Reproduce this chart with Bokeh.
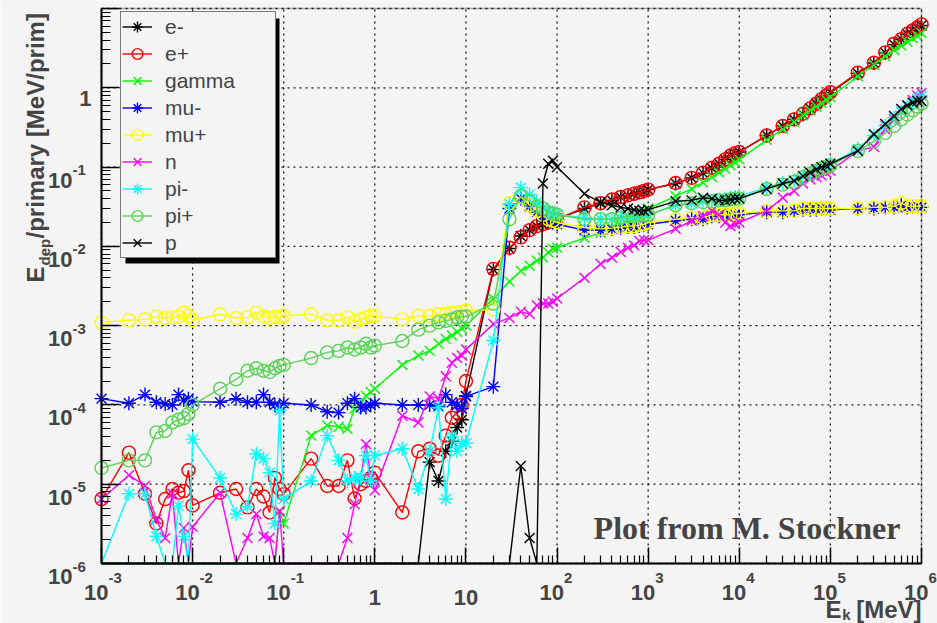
import math
from bokeh.plotting import figure
from bokeh.models import (Range1d, FixedTicker, Label, Legend, LegendItem,
                          BoxAnnotation, ColumnDataSource)
from bokeh.embed import file_html
from bokeh.resources import INLINE

BG = "#f4f4f4"
Y_MIN, Y_MAX = 1e-6, 10.0
X_MIN, X_MAX = 1e-3, 1e6

# kinetic energy grid [MeV]
EK = [1e-3, 2e-3, 3e-3, 4e-3, 5e-3, 6e-3, 7e-3, 8e-3, 9e-3,
      1e-2, 2e-2, 3e-2, 4e-2, 5e-2, 6e-2, 7e-2, 8e-2, 9e-2,
      1e-1, 2e-1, 3e-1, 4e-1, 5e-1, 6e-1, 7e-1, 8e-1, 9e-1,
      1.0, 2.0, 3.0, 4.0, 5.0, 6.0, 7.0, 8.0, 9.0,
      10.0, 20.0, 30.0, 40.0, 50.0, 60.0, 70.0, 80.0, 90.0,
      1e2, 2e2, 3e2, 4e2, 5e2, 6e2, 7e2, 8e2, 9e2,
      1e3, 2e3, 3e3, 4e3, 5e3, 6e3, 7e3, 8e3, 9e3,
      1e4, 2e4, 3e4, 4e4, 5e4, 6e4, 7e4, 8e4, 9e4,
      1e5, 2e5, 3e5, 4e5, 5e5, 6e5, 7e5, 8e5, 9e5,
      1e6]

# Edep/primary [MeV/prim]; 0 = nothing deposited (drawn at the axis floor)
E_MINUS = [0, 0, 0, 0, 0, 0, 0, 0, 0,
           0, 0, 0, 0, 0, 0, 0, 0, 0,
           0, 0, 0, 0, 0, 0, 0, 0, 0,
           0, 0, 0, 1.9e-5, 1.1e-5, 2.6e-5, 3.5e-5, 5.2e-5, 6.5e-5,
           1.3e-4, 0.0051, 0.0094, 0.0135, 0.016, 0.018, 0.019, 0.020, 0.021,
           0.022, 0.030, 0.035, 0.038, 0.042, 0.044, 0.046, 0.048, 0.049,
           0.052, 0.062, 0.073, 0.084, 0.097, 0.11, 0.124, 0.138, 0.148,
           0.155, 0.25, 0.33, 0.40, 0.46, 0.55, 0.63, 0.71, 0.79,
           0.87, 1.52, 2.05, 2.75, 3.5, 4.1, 4.7, 5.2, 5.7,
           6.1]

E_PLUS = [6.5e-6, 2.5e-5, 7.6e-6, 3.2e-6, 6.5e-6, 8.7e-6, 7.8e-6, 8.2e-6, 1.5e-5,
          5.4e-6, 7.8e-6, 8.7e-6, 5.1e-6, 8.7e-6, 7.0e-6, 4.4e-6, 1.2e-5, 8.7e-6,
          7.5e-6, 2.1e-5, 9.5e-6, 9.5e-6, 2.0e-5, 6.6e-6, 1.0e-5, 1.1e-5, 1.2e-5,
          1.4e-5, 4.4e-6, 2.6e-5, 2.8e-5, 2.3e-5, 4.1e-5, 6.9e-5, 8.0e-5, 1.0e-4,
          2.0e-4, 0.0052, 0.0096, 0.013, 0.016, 0.018, 0.019, 0.020, 0.021,
          0.022, 0.031, 0.035, 0.039, 0.042, 0.044, 0.046, 0.048, 0.050,
          0.052, 0.063, 0.073, 0.085, 0.098, 0.11, 0.125, 0.14, 0.15,
          0.155, 0.25, 0.33, 0.40, 0.47, 0.55, 0.63, 0.72, 0.80,
          0.88, 1.55, 2.07, 2.8, 3.6, 4.1, 4.8, 5.3, 5.8,
          6.3]

GAMMA = [0, 0, 0, 0, 0, 0, 0, 0, 0,
         0, 0, 0, 0, 0, 0, 0, 0, 4.5e-6,
         3.2e-6, 4.1e-5, 5.5e-5, 5.3e-5, 5.0e-5, 9.0e-5, 1.05e-4, 1.3e-4, 1.45e-4,
         1.6e-4, 3.2e-4, 4.2e-4, 4.8e-4, 5.9e-4, 6.8e-4, 7.5e-4, 8.3e-4, 9.2e-4,
         1.0e-3, 2.2e-3, 3.6e-3, 4.9e-3, 5.7e-3, 6.6e-3, 7.2e-3, 8.4e-3, 9.3e-3,
         9.6e-3, 0.0128, 0.0148, 0.017, 0.019, 0.021, 0.023, 0.025, 0.027,
         0.030, 0.043, 0.053, 0.064, 0.075, 0.085, 0.095, 0.105, 0.115,
         0.125, 0.22, 0.30, 0.37, 0.45, 0.52, 0.58, 0.64, 0.70,
         0.76, 1.4, 1.95, 2.5, 3.0, 3.4, 3.8, 4.2, 4.5,
         4.9]

MU_MINUS = [1.2e-4, 1.05e-4, 1.35e-4, 1.08e-4, 1.03e-4, 1.0e-4, 1.35e-4, 1.15e-4, 1.2e-4,
            1.1e-4, 1.08e-4, 1.2e-4, 1.08e-4, 1.08e-4, 1.35e-4, 1.08e-4, 1.0e-4, 9.3e-5,
            1.05e-4, 1.0e-4, 8.2e-5, 8.0e-5, 1.05e-4, 1.2e-4, 9.3e-5, 9.3e-5, 1.0e-4,
            1.05e-4, 1.0e-4, 1.0e-4, 1.0e-4, 9.6e-5, 1.35e-4, 1.08e-4, 1.0e-4, 9.0e-5,
            1.28e-4, 1.7e-4, 0.030, 0.040, 0.032, 0.027, 0.024, 0.021, 0.020,
            0.019, 0.016, 0.016, 0.0165, 0.017, 0.0175, 0.0175, 0.018, 0.0185,
            0.019, 0.021, 0.022, 0.022, 0.024, 0.024, 0.024, 0.025, 0.025,
            0.025, 0.027, 0.027, 0.028, 0.029, 0.029, 0.029, 0.030, 0.030,
            0.029, 0.030, 0.030, 0.031, 0.031, 0.033, 0.031, 0.032, 0.032,
            0.031]

MU_PLUS = [1.10e-3, 1.17e-3, 1.20e-3, 1.30e-3, 1.25e-3, 1.27e-3, 1.30e-3, 1.46e-3, 1.33e-3,
           1.17e-3, 1.39e-3, 1.25e-3, 1.27e-3, 1.46e-3, 1.30e-3, 1.25e-3, 1.30e-3, 1.27e-3,
           1.33e-3, 1.39e-3, 1.17e-3, 1.17e-3, 1.27e-3, 1.12e-3, 1.20e-3, 1.27e-3, 1.33e-3,
           1.33e-3, 1.20e-3, 1.33e-3, 1.33e-3, 1.39e-3, 1.40e-3, 1.46e-3, 1.46e-3, 1.50e-3,
           1.55e-3, 1.60e-3, 0.035, 0.042, 0.033, 0.028, 0.025, 0.022, 0.021,
           0.020, 0.0173, 0.0166, 0.017, 0.0175, 0.018, 0.018, 0.0185, 0.019,
           0.020, 0.022, 0.023, 0.023, 0.025, 0.025, 0.025, 0.025, 0.026,
           0.026, 0.028, 0.028, 0.028, 0.030, 0.030, 0.030, 0.030, 0.030,
           0.030, 0.030, 0.031, 0.031, 0.032, 0.035, 0.032, 0.032, 0.032,
           0.032]

NEUTRON = [6.5e-6, 1.3e-5, 9.5e-6, 3.6e-6, 2.1e-6, 7.6e-6, 0, 2.8e-6, 0,
           2.9e-6, 7.8e-6, 0, 2.1e-6, 4.2e-6, 2.2e-6, 2.1e-6, 0, 4.6e-6,
           0, 0, 0, 0, 2.1e-6, 5.6e-6, 1.2e-5, 3.2e-5, 1.2e-5,
           8.4e-6, 7.3e-5, 6.0e-5, 1.28e-4, 1.2e-4, 2.3e-4, 3.4e-4, 3.9e-4, 4.2e-4,
           5.0e-4, 1.05e-3, 1.25e-3, 1.5e-3, 1.4e-3, 1.8e-3, 1.9e-3, 1.9e-3, 2.0e-3,
           2.2e-3, 4.0e-3, 6.0e-3, 7.2e-3, 8.5e-3, 9.6e-3, 1.03e-2, 1.17e-2, 1.2e-2,
           0.012, 0.0166, 0.021, 0.024, 0.028, 0.025, 0.020, 0.018, 0.019,
           0.020, 0.028, 0.041, 0.050, 0.062, 0.070, 0.075, 0.078, 0.085,
           0.090, 0.16, 0.18, 0.30, 0.40, 0.50, 0.60, 0.70, 0.80,
           0.86]

PI_MINUS = [0, 7.6e-6, 7.6e-6, 2.2e-6, 0, 0, 5.3e-6, 2.2e-6, 0,
            3.7e-5, 1.2e-5, 4.2e-6, 5.2e-6, 2.4e-5, 2.1e-5, 1.4e-5, 3.2e-6, 8.5e-5,
            6.5e-6, 1.1e-5, 4.1e-5, 2.0e-5, 1.1e-5, 1.2e-5, 1.2e-5, 2.3e-5, 1.1e-5,
            2.3e-5, 2.8e-5, 8.7e-6, 2.6e-5, 9.3e-5, 6.5e-6, 4.0e-5, 2.6e-5, 3.3e-5,
            3.3e-5, 6.5e-4, 0.034, 0.055, 0.045, 0.036, 0.031, 0.028, 0.026,
            0.025, 0.023, 0.022, 0.022, 0.023, 0.023, 0.024, 0.024, 0.025,
            0.025, 0.033, 0.035, 0.037, 0.038, 0.039, 0.040, 0.041, 0.042,
            0.043, 0.055, 0.063, 0.068, 0.077, 0.085, 0.093, 0.100, 0.105,
            0.110, 0.17, 0.25, 0.33, 0.42, 0.50, 0.58, 0.66, 0.73,
            0.79]

PI_PLUS = [1.6e-5, 2.0e-5, 2.0e-5, 4.5e-5, 4.7e-5, 6.0e-5, 6.5e-5, 6.8e-5, 7.7e-5,
           1.0e-4, 1.6e-4, 2.1e-4, 2.7e-4, 2.9e-4, 2.7e-4, 2.6e-4, 2.9e-4, 3.1e-4,
           3.2e-4, 3.9e-4, 4.6e-4, 4.8e-4, 5.3e-4, 5.0e-4, 5.3e-4, 5.9e-4, 5.3e-4,
           5.6e-4, 6.4e-4, 8.9e-4, 1.0e-3, 1.1e-3, 1.15e-3, 1.2e-3, 1.27e-3, 1.3e-3,
           1.3e-3, 1.9e-3, 0.022, 0.043, 0.037, 0.032, 0.030, 0.027, 0.026,
           0.025, 0.022, 0.022, 0.022, 0.023, 0.024, 0.024, 0.025, 0.025,
           0.025, 0.033, 0.035, 0.036, 0.037, 0.038, 0.038, 0.039, 0.040,
           0.040, 0.053, 0.060, 0.065, 0.074, 0.082, 0.090, 0.096, 0.100,
           0.105, 0.16, 0.21, 0.27, 0.33, 0.40, 0.46, 0.52, 0.58,
           0.63]

PROTON = [0, 0, 0, 0, 0, 0, 0, 0, 0,
          0, 0, 0, 0, 0, 0, 0, 0, 0,
          0, 0, 0, 0, 0, 0, 0, 0, 0,
          0, 0, 0, 0, 0, 0, 0, 0, 0,
          0, 0, 0, 1.7e-5, 2.1e-6, 0, 0.062, 0.11, 0.12,
          0.10, 0.046, 0.036, 0.033, 0.031, 0.030, 0.029, 0.028, 0.028,
          0.029, 0.037, 0.038, 0.041, 0.040, 0.038, 0.038, 0.039, 0.040,
          0.040, 0.053, 0.062, 0.067, 0.077, 0.085, 0.094, 0.100, 0.105,
          0.110, 0.16, 0.26, 0.35, 0.44, 0.54, 0.60, 0.65, 0.68,
          0.68]

SERIES = [
    ("e-", E_MINUS, "#000000", "asterisk"),
    ("e+", E_PLUS, "#ff0000", "circle"),
    ("gamma", GAMMA, "#00ff00", "x"),
    ("mu-", MU_MINUS, "#0000ff", "asterisk"),
    ("mu+", MU_PLUS, "#ffff00", "circle"),
    ("n", NEUTRON, "#ff00ff", "x"),
    ("pi-", PI_MINUS, "#00ffff", "asterisk"),
    ("pi+", PI_PLUS, "#59d454", "circle"),
    ("p", PROTON, "#000000", "x"),
]

X_TICKS = [1e-3, 1e-2, 1e-1, 1.0, 10.0, 1e2, 1e3, 1e4, 1e5, 1e6]
X_TICK_BASE = ["10", "10", "10", "1", "10", "10", "10", "10", "10", "10"]
X_TICK_EXP = ["-3", "-2", "-1", "", "", "2", "3", "4", "5", "6"]
Y_TICKS = [1e-6, 1e-5, 1e-4, 1e-3, 1e-2, 1e-1, 1.0, 10.0]
Y_TICK_BASE = ["10", "10", "10", "10", "10", "10", "1", ""]
Y_TICK_EXP = ["-6", "-5", "-4", "-3", "-2", "-1", "", ""]

FONT = "Liberation Sans"

# ---- page geometry (pixels) ----
W, H = 937, 623
F_LEFT, F_RIGHT, F_TOP, F_BOTTOM = 101, 921, 8, 563
dec_x = (F_RIGHT - F_LEFT) / math.log10(X_MAX / X_MIN)
dec_y = (F_BOTTOM - F_TOP) / math.log10(Y_MAX / Y_MIN)
xr = Range1d(X_MIN / 10 ** (F_LEFT / dec_x), X_MAX * 10 ** ((W - F_RIGHT) / dec_x))
yr = Range1d(Y_MIN / 10 ** ((H - F_BOTTOM) / dec_y), Y_MAX * 10 ** (F_TOP / dec_y))


def sy(img_y):
    """image row -> screen y measured from the bottom of the canvas"""
    return H - img_y


p = figure(width=W, height=H, x_axis_type="log", y_axis_type="log",
           x_range=xr, y_range=yr, output_backend="svg",
           toolbar_location=None, title=None, min_border=0,
           background_fill_color=BG, border_fill_color=BG)
p.outline_line_color = None
p.xgrid.visible = False
p.ygrid.visible = False

minor_x = [m * 10.0 ** e for e in range(-3, 6) for m in range(2, 10)]
minor_y = [m * 10.0 ** e for e in range(-6, 1) for m in range(2, 10)]
xa, ya = p.xaxis[0], p.yaxis[0]
xa.fixed_location = Y_MIN
xa.bounds = (X_MIN, X_MAX)
ya.fixed_location = X_MIN
ya.bounds = (Y_MIN, Y_MAX)
for ax, ticks, minors, mj, mn in ((xa, X_TICKS, minor_x, 16, 8),
                                  (ya, Y_TICKS, minor_y, 18, 9)):
    ax.ticker = FixedTicker(ticks=ticks, minor_ticks=minors)
    ax.major_tick_in = mj
    ax.major_tick_out = 0
    ax.minor_tick_in = mn
    ax.minor_tick_out = 0
    ax.major_tick_line_width = 1.5
    ax.minor_tick_line_width = 1.2
    ax.major_tick_line_color = "black"
    ax.minor_tick_line_color = "black"
    ax.axis_line_width = 2
    ax.axis_line_color = "black"
    ax.major_label_text_color = None
    ax.major_label_text_font_size = "10px"

# dotted grid at the decades, limited to the plotting box
p.segment(x0=X_TICKS, y0=[Y_MIN] * len(X_TICKS), x1=X_TICKS, y1=[Y_MAX] * len(X_TICKS),
          line_color="black", line_dash="2 4", line_width=1.3, line_alpha=0.9,
          level="underlay")
p.segment(x0=[X_MIN] * len(Y_TICKS), y0=Y_TICKS, x1=[X_MAX] * len(Y_TICKS), y1=Y_TICKS,
          line_color="black", line_dash="2 4", line_width=1.3, line_alpha=0.9,
          level="underlay")

# data
items = []
for name, vals, color, marker in SERIES:
    y_line = [v if v > 0 else Y_MIN for v in vals]
    y_mark = [v if v > 0 else float("nan") for v in vals]
    src = ColumnDataSource(dict(x=EK, y=y_line, ym=y_mark))
    lr = p.line("x", "y", source=src, line_color=color, line_width=1.4)
    if marker == "circle":
        sr = p.scatter("x", "ym", source=src, marker="circle", size=13,
                       fill_color=None, line_color=color, line_width=1.4)
    else:
        sr = p.scatter("x", "ym", source=src, marker=marker, size=14,
                       line_color=color, line_width=1.4)
    items.append(LegendItem(label=name, renderers=[lr, sr]))

# frame of the plotting box
p.add_layout(BoxAnnotation(left=X_MIN, right=X_MAX, bottom=Y_MIN, top=Y_MAX,
                           fill_color=None, line_color="black", line_width=1.5))

# legend shadow + legend
p.add_layout(BoxAnnotation(left=125, right=279, bottom=sy(263), top=sy(18),
                           left_units="screen", right_units="screen",
                           bottom_units="screen", top_units="screen",
                           fill_color="black", fill_alpha=1.0, line_color=None))
legend = Legend(items=items, location=(120, sy(258)), orientation="vertical",
                padding=1, spacing=0, margin=0,
                glyph_width=30, glyph_height=27, label_height=27,
                label_width=109, label_standoff=13,
                label_text_font=FONT, label_text_font_size="21px",
                border_line_color="black", border_line_width=1.5,
                background_fill_color=BG, background_fill_alpha=1.0)
p.add_layout(legend)


def lab(text, x, y, size, xu="screen", yu="screen", angle=0.0, align="left",
        dx=0, dy=0, font=FONT):
    p.add_layout(Label(x=x, y=y, x_units=xu, y_units=yu, text=text,
                       x_offset=dx, y_offset=dy, angle=angle, text_align=align,
                       text_baseline="alphabetic", text_font=font,
                       text_font_style="bold", text_font_size=size))


# tick labels (ROOT style with raised exponents)
for t, b, e in zip(X_TICKS, X_TICK_BASE, X_TICK_EXP):
    if e:
        lab(b, t, sy(592), "22px", xu="data", align="right", dx=7)
        lab(e, t, sy(577), "15px", xu="data", align="left", dx=7)
    else:
        lab(b, t, sy(597), "22px", xu="data", align="center")
for t, b, e in zip(Y_TICKS, Y_TICK_BASE, Y_TICK_EXP):
    if not b:
        continue
    if e:
        lab(b, 72, t, "22px", yu="data", align="right", dy=-13)
        lab(e, 72, t, "15px", yu="data", align="left", dy=-3)
    else:
        lab(b, 91, t, "22px", yu="data", align="right", dy=-11)

# axis titles
lab("E", 35, sy(282), "24px", angle=math.pi / 2)
lab("dep", 44, sy(265), "15px", angle=math.pi / 2)
lab("/primary [MeV/prim]", 35, sy(238), "24px", angle=math.pi / 2)
lab("E", 841, sy(609), "24px", align="right")
lab("k", 850, sy(614), "15px", align="right")
lab("[MeV]", 921, sy(609), "24px", align="right")

lab("Plot from M. Stockner", 900, sy(527), "32px", align="right",
    font="Liberation Serif")

open("out.html", "w").write(file_html(p, INLINE))
